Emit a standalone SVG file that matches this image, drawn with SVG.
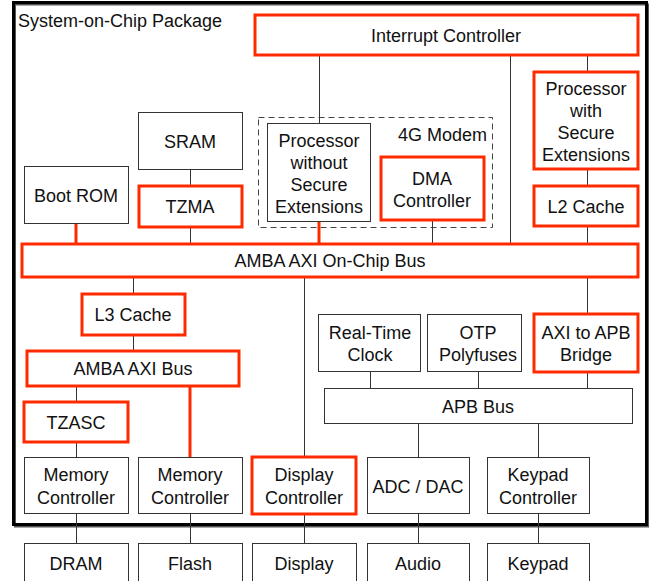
<svg xmlns="http://www.w3.org/2000/svg" width="651" height="581" viewBox="0 0 651 581">
<style>
text{font-family:"Liberation Sans",Arial,sans-serif;font-size:18px;fill:#111;text-anchor:middle}
.n{fill:#fff;stroke:#333;stroke-width:1}
.r{fill:#fff;stroke:#ff2a00;stroke-width:3}
.c line{stroke:#333;stroke-width:1}
.c line.rc{stroke:#ff2a00;stroke-width:3}
</style>
<rect width="651" height="581" fill="#fff"/>
<g id="package">
<rect x="15" y="4.5" width="633" height="522" fill="none" stroke="#555" stroke-width="2"/>
<rect x="13.5" y="2.5" width="633" height="522" fill="none" stroke="#000" stroke-width="3"/>
<text x="18" y="27" style="text-anchor:start">System-on-Chip Package</text>
</g>
<g id="modem">
<rect x="258.5" y="117.5" width="234" height="110" fill="none" stroke="#444" stroke-width="1" stroke-dasharray="6,4"/>
<text x="487" y="141" style="text-anchor:end">4G Modem</text>
</g>
<g class="c" id="connectors">
<line x1="319.5" y1="55" x2="319.5" y2="123"/>
<line x1="510.5" y1="55" x2="510.5" y2="245"/>
<line x1="587.5" y1="55" x2="587.5" y2="72"/>
<line x1="587.5" y1="169" x2="587.5" y2="186"/>
<line x1="587.5" y1="226" x2="587.5" y2="245"/>
<line x1="190.5" y1="169" x2="190.5" y2="186"/>
<line x1="190.5" y1="227" x2="190.5" y2="245"/>
<line class="rc" x1="76" y1="223" x2="76" y2="245"/>
<line class="rc" x1="319" y1="221" x2="319" y2="245"/>
<line x1="432.5" y1="220" x2="432.5" y2="245"/>
<line x1="133.5" y1="277" x2="133.5" y2="294"/>
<line x1="133.5" y1="335" x2="133.5" y2="351"/>
<line x1="76.5" y1="386" x2="76.5" y2="402"/>
<line x1="76.5" y1="442" x2="76.5" y2="457"/>
<line class="rc" x1="190" y1="386" x2="190" y2="457"/>
<line x1="304.5" y1="277" x2="304.5" y2="457"/>
<line x1="587.5" y1="277" x2="587.5" y2="314"/>
<line x1="587.5" y1="372" x2="587.5" y2="388"/>
<line x1="370.5" y1="371" x2="370.5" y2="388"/>
<line x1="478.5" y1="371" x2="478.5" y2="388"/>
<line x1="418.5" y1="423" x2="418.5" y2="457"/>
<line x1="538.5" y1="423" x2="538.5" y2="457"/>
<line x1="76.5" y1="513" x2="76.5" y2="543"/>
<line x1="190.5" y1="513" x2="190.5" y2="543"/>
<line x1="304.5" y1="514" x2="304.5" y2="543"/>
<line x1="418.5" y1="513" x2="418.5" y2="543"/>
<line x1="538.5" y1="513" x2="538.5" y2="543"/>
</g>
<g id="interrupt"><rect class="r" x="255" y="15" width="383" height="40"/><text x="446" y="42">Interrupt Controller</text></g>
<g id="sram"><rect class="n" x="138.5" y="112.5" width="104" height="57"/><text x="190" y="148">SRAM</text></g>
<g id="tzma"><rect class="r" x="139" y="186" width="103" height="41"/><text x="190" y="213">TZMA</text></g>
<g id="bootrom"><rect class="n" x="24.5" y="166.5" width="104" height="57"/><text x="76" y="202">Boot ROM</text></g>
<g id="procnosec"><rect class="n" x="267.5" y="123.5" width="103" height="98"/>
<text x="319" y="147">Processor</text><text x="319" y="169">without</text><text x="319" y="191">Secure</text><text x="319" y="213">Extensions</text></g>
<g id="dma"><rect class="r" x="381" y="157" width="103" height="63"/><text x="432" y="185">DMA</text><text x="432" y="207">Controller</text></g>
<g id="procsec"><rect class="r" x="534" y="72" width="104" height="97"/>
<text x="586" y="95">Processor</text><text x="586" y="117">with</text><text x="586" y="139">Secure</text><text x="586" y="161">Extensions</text></g>
<g id="l2"><rect class="r" x="534" y="186" width="104" height="40"/><text x="586" y="213">L2 Cache</text></g>
<g id="axibus"><rect class="r" x="22" y="244" width="616" height="33"/><text x="330" y="267">AMBA AXI On-Chip Bus</text></g>
<g id="l3"><rect class="r" x="82" y="294" width="103" height="41"/><text x="133" y="321">L3 Cache</text></g>
<g id="axibus2"><rect class="r" x="27" y="351" width="212" height="35"/><text x="133" y="375">AMBA AXI Bus</text></g>
<g id="tzasc"><rect class="r" x="24" y="402" width="104" height="40"/><text x="76" y="429">TZASC</text></g>
<g id="rtc"><rect class="n" x="318.5" y="314.5" width="102" height="57"/><text x="370" y="339">Real-Time</text><text x="370" y="361">Clock</text></g>
<g id="otp"><rect class="n" x="427.5" y="314.5" width="94" height="57"/><text x="478" y="339">OTP</text><text x="478" y="361">Polyfuses</text></g>
<g id="bridge"><rect class="r" x="534" y="314" width="104" height="58"/><text x="586" y="339">AXI to APB</text><text x="586" y="361">Bridge</text></g>
<g id="apb"><rect class="n" x="324.5" y="388.5" width="308" height="35"/><text x="478" y="413">APB Bus</text></g>
<g id="memctl1"><rect class="n" x="24.5" y="457.5" width="104" height="56"/><text x="76" y="481">Memory</text><text x="76" y="504">Controller</text></g>
<g id="memctl2"><rect class="n" x="138.5" y="457.5" width="104" height="56"/><text x="190" y="481">Memory</text><text x="190" y="504">Controller</text></g>
<g id="dispctl"><rect class="r" x="252" y="457" width="104" height="57"/><text x="304" y="481">Display</text><text x="304" y="504">Controller</text></g>
<g id="adc"><rect class="n" x="367.5" y="457.5" width="102" height="56"/><text x="418" y="493">ADC / DAC</text></g>
<g id="keyctl"><rect class="n" x="487.5" y="457.5" width="102" height="56"/><text x="538" y="481">Keypad</text><text x="538" y="504">Controller</text></g>
<g id="dram"><rect class="n" x="24.5" y="543.5" width="104" height="50"/><text x="76" y="570">DRAM</text></g>
<g id="flash"><rect class="n" x="138.5" y="543.5" width="104" height="50"/><text x="190" y="570">Flash</text></g>
<g id="display"><rect class="n" x="252.5" y="543.5" width="104" height="50"/><text x="304" y="570">Display</text></g>
<g id="audio"><rect class="n" x="367.5" y="543.5" width="102" height="50"/><text x="418" y="570">Audio</text></g>
<g id="keypad"><rect class="n" x="487.5" y="543.5" width="102" height="50"/><text x="538" y="570">Keypad</text></g>
</svg>
